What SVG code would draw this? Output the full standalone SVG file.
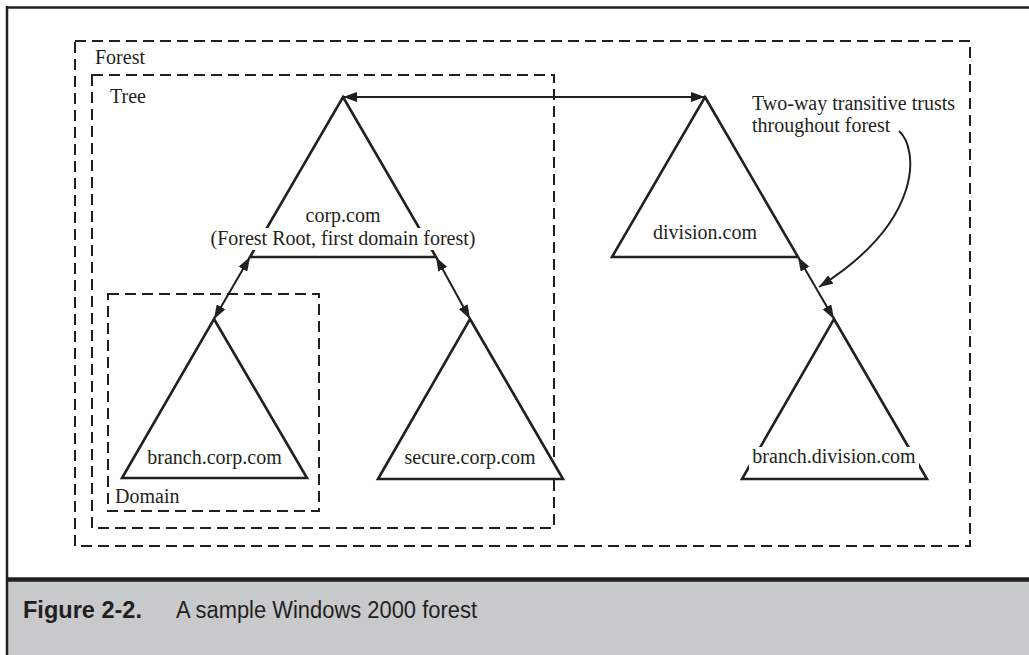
<svg xmlns="http://www.w3.org/2000/svg" width="1029" height="655" viewBox="0 0 1029 655" font-family="'Liberation Serif', 'Times New Roman', serif">
  <style>
    .lbl { font-family: "Liberation Serif", "Times New Roman", serif; font-size: 20px; fill: #231f20; }
    .mid { text-anchor: middle; }
    .box { fill: none; stroke: #231f20; stroke-width: 2; stroke-dasharray: 11 6; }
    .tri { fill: #ffffff; stroke: #231f20; stroke-width: 2.6; stroke-linejoin: miter; }
    .con { fill: none; stroke: #231f20; stroke-width: 2; }
    .cap { font-family: "Liberation Sans", Arial, sans-serif; font-size: 23px; fill: #231f20; }
  </style>
  <defs>
    <marker id="ah" viewBox="0 0 14 10" refX="14" refY="5" markerWidth="14" markerHeight="10" markerUnits="userSpaceOnUse" orient="auto-start-reverse">
      <path d="M0,0 L14,5 L0,10 z" fill="#231f20"/>
    </marker>
  </defs>

  <rect x="0" y="0" width="1029" height="655" fill="#ffffff"/>

  <g id="frame">
    <rect x="8" y="581" width="1021" height="74" fill="#c8c9cb"/>
    <line x1="6" y1="7.5" x2="1029" y2="7.5" stroke="#231f20" stroke-width="2.5"/>
    <line x1="7" y1="6" x2="7" y2="655" stroke="#231f20" stroke-width="2.5"/>
    <line x1="6" y1="579.5" x2="1029" y2="579.5" stroke="#231f20" stroke-width="4.5"/>
    <text class="cap" x="23" y="618" font-weight="bold" textLength="119" lengthAdjust="spacingAndGlyphs">Figure 2-2.</text>
    <text class="cap" x="176" y="618" textLength="301" lengthAdjust="spacingAndGlyphs">A sample Windows 2000 forest</text>
  </g>

  <g id="forest">
    <rect class="box" x="75" y="41" width="895" height="505"/>
    <text class="lbl" x="95" y="64">Forest</text>
  </g>

  <g id="tree">
    <rect class="box" x="92" y="75" width="462" height="453"/>
    <text class="lbl" x="110" y="103">Tree</text>
  </g>

  <g id="domain">
    <rect class="box" x="108" y="294" width="211" height="217"/>
    <text class="lbl" x="115" y="503">Domain</text>
  </g>

  <g id="corp">
    <polygon class="tri" points="343,97 436,257 250,257"/>
    <text class="lbl mid" x="343" y="222">corp.com</text>
    <rect x="210" y="228" width="266" height="22" fill="#ffffff"/>
    <text class="lbl mid" x="343" y="245">(Forest Root, first domain forest)</text>
  </g>

  <g id="division">
    <polygon class="tri" points="705,97 798,257 612,257"/>
    <text class="lbl mid" x="705" y="239">division.com</text>
  </g>

  <g id="branch-corp">
    <polygon class="tri" points="214,319 307,478 122,478"/>
    <text class="lbl mid" x="214.5" y="464">branch.corp.com</text>
  </g>

  <g id="secure-corp">
    <polygon class="tri" points="470,319 563,479 378,479"/>
    <text class="lbl mid" x="470" y="464">secure.corp.com</text>
  </g>

  <g id="branch-division">
    <polygon class="tri" points="834,319 927,479 742,479"/>
    <rect x="749" y="447" width="170" height="23" fill="#ffffff"/>
    <text class="lbl mid" x="834" y="463">branch.division.com</text>
  </g>

  <g id="note">
    <text class="lbl" x="752" y="110">Two-way transitive trusts</text>
    <text class="lbl" x="752" y="132">throughout forest</text>
  </g>

  <g id="connectors">
    <line class="con" x1="343" y1="97" x2="705" y2="97" marker-start="url(#ah)" marker-end="url(#ah)"/>
    <line class="con" x1="250" y1="257" x2="214" y2="319" marker-start="url(#ah)" marker-end="url(#ah)"/>
    <line class="con" x1="436" y1="257" x2="470" y2="319" marker-start="url(#ah)" marker-end="url(#ah)"/>
    <line class="con" x1="798" y1="257" x2="834" y2="319" marker-start="url(#ah)" marker-end="url(#ah)"/>
    <path class="con" d="M899,131 C918,148 925,220 819,287" marker-end="url(#ah)"/>
  </g>
</svg>
